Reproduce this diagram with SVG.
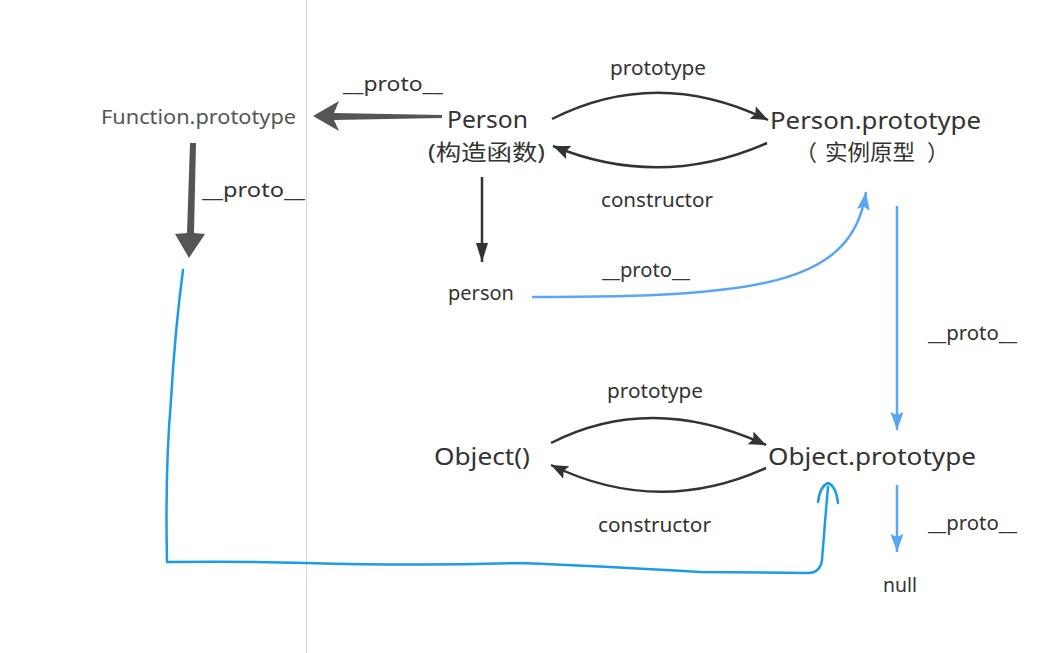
<svg xmlns="http://www.w3.org/2000/svg" width="1040" height="653" viewBox="0 0 1040 653">
<style>
text{font-family:"Noto Sans","Noto Sans CJK SC",sans-serif;fill:#333}
.big{font-size:24px}
.cn{font-size:22px}
.lbl{font-size:19px}
.dk{fill:none;stroke:#333;stroke-width:2.5}
.bl{fill:none;stroke:#5aa6f4;stroke-width:2.5}
.hand{fill:none;stroke:#1a9de6;stroke-width:2.5;stroke-linecap:round;stroke-linejoin:round}
</style>
<defs>
<marker id="ahDark" markerUnits="userSpaceOnUse" markerWidth="20" markerHeight="16" refX="17" refY="7" orient="auto">
<path d="M0,0 L17,7 L0,14 L3,7 z" fill="#333"/>
</marker>
<marker id="ahDown" markerUnits="userSpaceOnUse" markerWidth="20" markerHeight="16" refX="19" refY="6" orient="auto">
<path d="M0,0 L19,6 L0,12 z" fill="#333"/>
</marker>
<marker id="ahBlue" markerUnits="userSpaceOnUse" markerWidth="20" markerHeight="16" refX="18" refY="6.5" orient="auto">
<path d="M0,0 L18,6.5 L0,13 L3,6.5 z" fill="#5aa6f4"/>
</marker>
</defs>
<rect width="1040" height="653" fill="#fff"/>
<line x1="306.5" y1="0" x2="306.5" y2="653" stroke="#d6d6d6" stroke-width="1"/>

<g id="connectors">
<polygon points="313,116 339,101 334,113 442,115 442,118 334,120 339,131" fill="#555"/>
<polygon points="190,143 196,143 194,233 205,234 189,258 175,234 187,233" fill="#555"/>
<line class="dk" x1="482" y1="177" x2="482" y2="262" marker-end="url(#ahDown)" stroke-width="2"/>
<path class="dk" d="M552,119 Q657,66 768,120" marker-end="url(#ahDark)"/>
<path class="dk" d="M767,143 Q660,190 553,146" marker-end="url(#ahDark)"/>
<path class="dk" d="M551,443 Q651,392 766,445" marker-end="url(#ahDark)"/>
<path class="dk" d="M766,468 Q658,517 551,465" marker-end="url(#ahDark)"/>
<path class="bl" d="M532,297 C760,297 852,285 866,192" marker-end="url(#ahBlue)"/>
<line class="bl" x1="897" y1="206" x2="897" y2="430" marker-end="url(#ahBlue)"/>
<line class="bl" x1="897" y1="485" x2="897" y2="552" marker-end="url(#ahBlue)"/>
<path class="hand" d="M183,270 Q175,330 171,400 Q165,470 167,562 Q240,561 306,563 Q420,566 520,563 Q600,566 700,572 L808,573 Q820,573 822,560 L826,510 L828,487"/>
<path class="hand" d="M818,502 Q820,486 828,483 Q836,486 838,503"/>
<text class="lbl" x="343" y="91" textLength="100" lengthAdjust="spacingAndGlyphs">__proto__</text>
<text class="lbl" x="202" y="197" textLength="103" lengthAdjust="spacingAndGlyphs">__proto__</text>
<text class="lbl" x="610" y="75" textLength="96" lengthAdjust="spacingAndGlyphs">prototype</text>
<text class="lbl" x="601" y="207" textLength="112" lengthAdjust="spacingAndGlyphs">constructor</text>
<text class="lbl" x="602" y="277" textLength="88" lengthAdjust="spacingAndGlyphs">__proto__</text>
<text class="lbl" x="928" y="340" textLength="89" lengthAdjust="spacingAndGlyphs">__proto__</text>
<text class="lbl" x="607" y="398" textLength="96" lengthAdjust="spacingAndGlyphs">prototype</text>
<text class="lbl" x="598" y="532" textLength="113" lengthAdjust="spacingAndGlyphs">constructor</text>
<text class="lbl" x="928" y="530" textLength="89" lengthAdjust="spacingAndGlyphs">__proto__</text>
</g>

<g id="function-prototype">
<text x="101" y="124" font-size="20" textLength="195" lengthAdjust="spacingAndGlyphs" style="fill:#555">Function.prototype</text>
</g>
<g id="person-constructor">
<text class="big" x="447" y="128" textLength="81" lengthAdjust="spacingAndGlyphs">Person</text>
<text class="cn" x="428" y="160" textLength="117" lengthAdjust="spacingAndGlyphs">(构造函数)</text>
</g>
<g id="person-prototype">
<text class="big" x="770" y="129" textLength="211" lengthAdjust="spacingAndGlyphs">Person.prototype</text>
<text class="cn" x="795" y="160">（<tspan x="825" textLength="90" lengthAdjust="spacingAndGlyphs">实例原型</tspan><tspan x="927">）</tspan></text>
</g>
<g id="person-instance">
<text class="lbl" x="448" y="300" textLength="66" lengthAdjust="spacingAndGlyphs">person</text>
</g>
<g id="object-constructor">
<text class="big" x="434" y="465" textLength="96" lengthAdjust="spacingAndGlyphs">Object()</text>
</g>
<g id="object-prototype">
<text class="big" x="768" y="465" textLength="208" lengthAdjust="spacingAndGlyphs">Object.prototype</text>
</g>
<g id="null">
<text class="lbl" x="883" y="592" textLength="34" lengthAdjust="spacingAndGlyphs">null</text>
</g>
</svg>
